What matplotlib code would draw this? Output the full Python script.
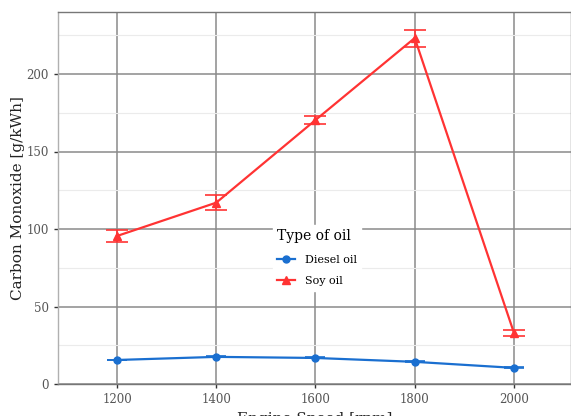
import matplotlib
matplotlib.use("Agg")
import matplotlib.pyplot as plt
from matplotlib.lines import Line2D

speed = [1200, 1400, 1600, 1800, 2000]
diesel_co = [15.5, 17.5, 16.8, 14.3, 10.4]
diesel_err = [0.3, 0.3, 0.3, 0.3, 0.3]
soy_co = [95.5, 117.0, 170.3, 223.2, 33.0]
soy_err = [4.0, 5.0, 2.5, 5.5, 2.0]

blue = "#1a6fd0"
red = "#ff3333"

plt.rcParams["font.family"] = ["DejaVu Serif"]

fig = plt.figure(figsize=(5.71, 4.16), dpi=100)
ax = fig.add_axes([58 / 571, 1 - 384 / 416, (571 - 58) / 571, (384 - 12) / 416])

ax.set_xlim(1081, 2115)
ax.set_ylim(0, 240)

# grid
ax.set_xticks(speed)
ax.set_yticks([0, 50, 100, 150, 200])
ax.set_yticks([25, 75, 125, 175, 225], minor=True)
ax.grid(which="major", color="#8a8a8a", linewidth=1.1)
ax.grid(which="minor", axis="y", color="#ebebeb", linewidth=0.8)
ax.set_axisbelow(True)

for side in ["top", "right"]:
    ax.spines[side].set_color("#777777")
    ax.spines[side].set_linewidth(1.0)
ax.spines["left"].set_color("#b0b0b0")
ax.spines["left"].set_linewidth(1.0)
ax.spines["bottom"].set_color("#777777")
ax.spines["bottom"].set_linewidth(1.0)

ax.tick_params(axis="both", which="major", length=3, width=1, color="#333333",
               labelsize=8.5, labelcolor="#555555")
ax.tick_params(axis="both", which="minor", length=0)

ax.errorbar(speed, diesel_co, yerr=diesel_err, color=blue, marker="o",
            markersize=5, linewidth=1.6, capsize=7.5, capthick=1.2,
            elinewidth=1.0, zorder=3)
ax.errorbar(speed, soy_co, yerr=soy_err, color=red, marker="^",
            markersize=5.5, linewidth=1.6, capsize=8, capthick=1.2,
            elinewidth=1.2, zorder=3)

ax.set_xlabel("Engine Speed [rpm]", fontsize=11, color="#222222", labelpad=4)
ax.set_ylabel("Carbon Monoxide [g/kWh]", fontsize=11, color="#222222", labelpad=1)

handles = [
    Line2D([], [], color=blue, marker="o", markersize=5, linewidth=1.6),
    Line2D([], [], color=red, marker="^", markersize=5.5, linewidth=1.6),
]
leg = ax.legend(handles, ["Diesel oil", "Soy oil"], title="Type of oil",
                loc="upper left", bbox_to_anchor=((267 - 58) / 513, (384 - 219) / 372),
                frameon=True, fontsize=8, title_fontsize=10,
                handlelength=1.6, handletextpad=0.9, labelspacing=1.05,
                borderpad=0.4, alignment="left")
leg.get_frame().set_edgecolor("white")
leg.get_frame().set_facecolor("white")
leg.get_frame().set_alpha(1)

fig.savefig("out.png", dpi=100)
